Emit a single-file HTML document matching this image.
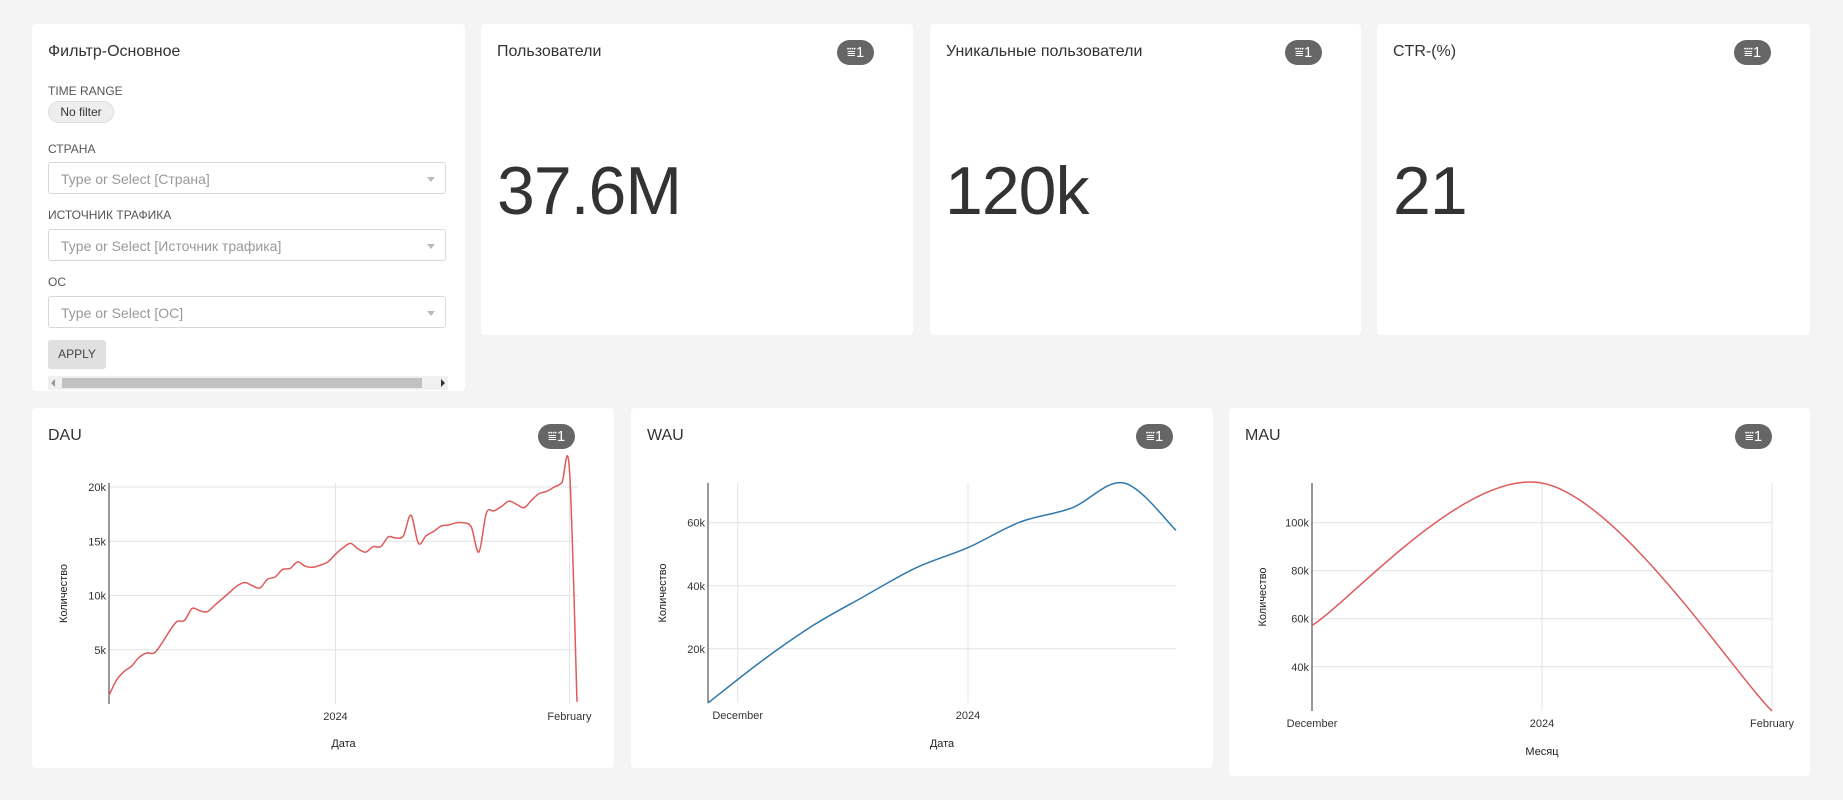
<!DOCTYPE html>
<html><head><meta charset="utf-8">
<style>
body{margin:0;width:1843px;height:800px;background:#f4f4f4;font-family:"Liberation Sans",sans-serif;color:#333;position:relative;overflow:hidden}
.card{position:absolute;background:#fff;border-radius:4px}
.title{position:absolute;font-size:16px;color:#333}
.big{position:absolute;font-size:68px;color:#333;font-weight:300;letter-spacing:-1px}
.badge{position:absolute;width:37px;height:25px;border-radius:13px;background:#666;color:#fff;font-size:15px;line-height:25px;text-align:center}
.lbl{position:absolute;font-size:12px;color:#555}
.sel{position:absolute;left:48px;width:398px;height:32px;border:1px solid #d9d9d9;border-radius:3px;font-size:14px;color:#999;line-height:32px;padding-left:12px;box-sizing:border-box}
.sel::after{content:"";position:absolute;right:10px;top:14px;border:4px solid transparent;border-top:5px solid #bbb}
svg text{font-family:"Liberation Sans",sans-serif}
</style></head><body>
<div class="card" style="left:32px;top:24px;width:433px;height:367px"></div>
<div class="title" style="left:48px;top:43px">Фильтр-Основное</div>
<div class="lbl" style="left:48px;top:84px">TIME RANGE</div>
<div style="position:absolute;left:48px;top:101px;width:66px;height:22px;border-radius:11px;background:#eee;border:1px solid #ddd;box-sizing:border-box;font-size:12px;line-height:20px;text-align:center">No filter</div>
<div class="lbl" style="left:48px;top:142px">СТРАНА</div>
<div class="sel" style="top:162px">Type or Select [Страна]</div>
<div class="lbl" style="left:48px;top:208px">ИСТОЧНИК ТРАФИКА</div>
<div class="sel" style="top:229px">Type or Select [Источник трафика]</div>
<div class="lbl" style="left:48px;top:275px">ОС</div>
<div class="sel" style="top:296px">Type or Select [ОС]</div>
<div style="position:absolute;left:48px;top:340px;width:58px;height:29px;background:#e0e0e0;border-radius:3px;font-size:12px;line-height:29px;text-align:center;color:#444">APPLY</div>
<div style="position:absolute;left:48px;top:376px;width:400px;height:14px;background:#f0f0f0">
<div style="position:absolute;left:3px;top:3px;border:4px solid transparent;border-right:4px solid #999;border-left:0"></div>
<div style="position:absolute;left:14px;top:2px;width:360px;height:10px;background:#c1c1c1"></div>
<div style="position:absolute;right:3px;top:3px;border:4px solid transparent;border-left:4px solid #333;border-right:0"></div></div>

<div class="card" style="left:481px;top:24px;width:432px;height:311px"></div>
<div class="title" style="left:497px;top:43px">Пользователи</div>
<div class="badge" style="left:837px;top:40px">⩸1</div>
<div class="big" style="left:497px;top:152px">37.6M</div>

<div class="card" style="left:930px;top:24px;width:431px;height:311px"></div>
<div class="title" style="left:946px;top:43px">Уникальные пользователи</div>
<div class="badge" style="left:1285px;top:40px">⩸1</div>
<div class="big" style="left:945px;top:152px">120k</div>

<div class="card" style="left:1377px;top:24px;width:433px;height:311px"></div>
<div class="title" style="left:1393px;top:43px">CTR-(%)</div>
<div class="badge" style="left:1734px;top:40px">⩸1</div>
<div class="big" style="left:1393px;top:152px">21</div>

<div class="card" style="left:32px;top:408px;width:582px;height:360px"></div>
<div class="title" style="left:48px;top:427px">DAU</div>
<div class="badge" style="left:538px;top:424px">⩸1</div>
<div class="card" style="left:631px;top:408px;width:582px;height:360px"></div>
<div class="title" style="left:647px;top:427px">WAU</div>
<div class="badge" style="left:1136px;top:424px">⩸1</div>
<div class="card" style="left:1229px;top:408px;width:581px;height:368px;overflow:hidden"></div>
<div class="title" style="left:1245px;top:427px">MAU</div>
<div class="badge" style="left:1735px;top:424px">⩸1</div>

<svg id="charts" width="1843" height="800" style="position:absolute;left:0;top:0"></svg>
<script>
// DAU: day index from 2023-12-02
const dauDays=[0,1,2,3,4,5,6,7,8,9,10,11,12,13,14,15,16,17,18,19,20,21,22,23,24,25,26,27,28,29,30,31,32,33,34,35,36,37,38,39,40,41,42,43,44,45,46,47,48,49,50,51,52,53,54,55,56,57,58,59,60,61,62];
const dauValues=[800,2200,3000,3500,4300,4700,4700,5600,6700,7600,7700,8800,8600,8500,9100,9700,10300,10900,11200,10900,10700,11500,11700,12400,12500,13100,12700,12600,12800,13100,13800,14400,14800,14300,14000,14500,14500,15400,15300,15500,17400,14800,15500,15900,16400,16500,16700,16700,16300,14000,17600,17800,18200,18700,18400,18100,18800,19400,19600,20000,20400,21600,200];
const dauYTicks=[5000,10000,15000,20000];
const dauYTickLabels=["5k","10k","15k","20k"];
const dauXTicks=[30,61];
const dauXTickLabels=["2024","February"];
// WAU: day index from 2023-11-27 (weekly)
const wauDays=[0,7,14,21,28,35,42,49,56,63];
const wauValues=[2800,15700,27200,36600,45700,52100,60200,64700,72600,57600];
const wauYTicks=[20000,40000,60000];
const wauYTickLabels=["20k","40k","60k"];
const wauXTicks=[4,35];
const wauXTickLabels=["December","2024"];
// MAU: months
const mauMonths=[0,1,2];
const mauValues=[57200,116500,21600];
const mauYTicks=[40000,60000,80000,100000];
const mauYTickLabels=["40k","60k","80k","100k"];
const mauXTicks=[0,1,2];
const mauXTickLabels=["December","2024","February"];

const svg=document.getElementById('charts');
const NS='http://www.w3.org/2000/svg';
function mk(tag,attrs,text){const e=document.createElementNS(NS,tag);for(const k in attrs)e.setAttribute(k,attrs[k]);if(text!==undefined)e.textContent=text;svg.appendChild(e);return e;}
function path(pts){let d='M'+pts[0][0]+','+pts[0][1];for(let i=0;i<pts.length-1;i++){const p0=pts[i-1]||pts[i],p1=pts[i],p2=pts[i+1],p3=pts[i+2]||p2;
 d+=' C'+(p1[0]+(p2[0]-p0[0])/6)+','+(p1[1]+(p2[1]-p0[1])/6)+' '+(p2[0]-(p3[0]-p1[0])/6)+','+(p2[1]-(p3[1]-p1[1])/6)+' '+p2[0]+','+p2[1];}return d;}
function chart(c){
 const sx=v=>c.x0+(v-c.xd[0])/(c.xd[1]-c.xd[0])*(c.x1-c.x0);
 const sy=v=>c.y0-(v-c.yd[0])/(c.yd[1]-c.yd[0])*(c.y0-c.y1);
 c.yt.forEach((t,i)=>{const g=mk('line',{x1:c.x0,x2:c.gx,y1:sy(t),y2:sy(t),stroke:'#e3e3e3','stroke-width':1});
  
  const l=mk('text',{x:c.x0-3,y:sy(t)+4,'text-anchor':'end','font-size':11,fill:'#333'},c.ytl[i]);
  });
 c.xt.forEach((t,i)=>{const g=mk('line',{x1:sx(t),x2:sx(t),y1:c.at,y2:c.y0,stroke:'#e3e3e3','stroke-width':1});
  
  const l=mk('text',{x:sx(t),y:c.y0+16,'text-anchor':'middle','font-size':11,fill:'#333'},c.xtl[i]);
  });
 const ax=mk('line',{x1:c.x0,x2:c.x0,y1:c.at,y2:c.y0,stroke:'#333','stroke-width':1});
 
 const pts=c.xs.map((x,i)=>[sx(x),sy(c.ys[i])]);
 const ln=mk('path',{d:path(pts),fill:'none',stroke:c.col,'stroke-width':1.5});
 
 const yt=mk('text',{x:0,y:0,'font-size':11,fill:'#222','text-anchor':'middle',transform:'translate('+c.ylx+','+((c.at+c.y0)/2)+') rotate(-90)'},'Количество');
 
 const xt=mk('text',{x:(c.x0+c.gx)/2,y:c.xly,'font-size':11,fill:'#222','text-anchor':'middle'},c.xl);
 
}
chart({n:'dau',x0:109,x1:577,gx:578,xd:[0,62],y0:704,y1:487,yd:[0,20000],at:483,xs:dauDays,ys:dauValues,yt:dauYTicks,ytl:dauYTickLabels,xt:dauXTicks,xtl:dauXTickLabels,col:'#e05a5a',ylx:67,xly:747,xl:'Дата'});
chart({n:'wau',x0:708,x1:1176,gx:1176,xd:[0,63],y0:703,y1:483,yd:[2800,72600],at:483,xs:wauDays,ys:wauValues,yt:wauYTicks,ytl:wauYTickLabels,xt:wauXTicks,xtl:wauXTickLabels,col:'#2f78ad',ylx:666,xly:747,xl:'Дата'});
chart({n:'mau',x0:1312,x1:1772,gx:1772,xd:[0,2],y0:711,y1:483,yd:[21600,116500],at:483,xs:mauMonths,ys:mauValues,yt:mauYTicks,ytl:mauYTickLabels,xt:mauXTicks,xtl:mauXTickLabels,col:'#e05a5a',ylx:1266,xly:755,xl:'Месяц'});
</script>
</body></html>
